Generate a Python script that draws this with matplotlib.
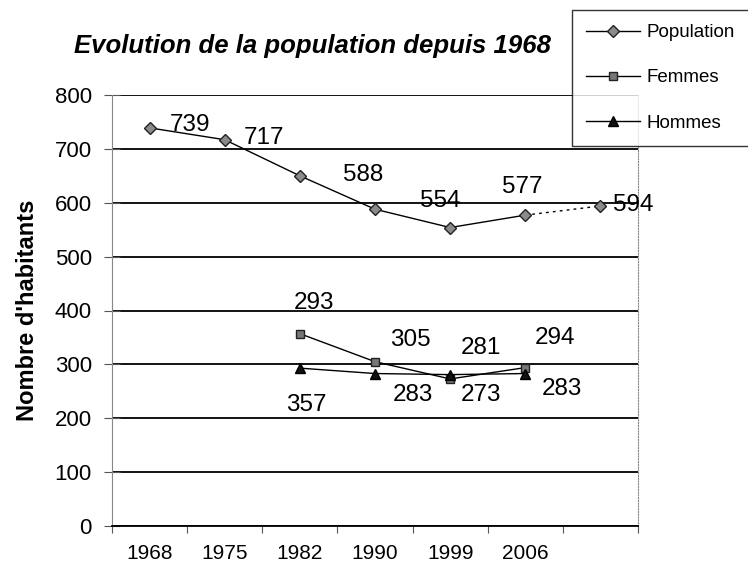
import matplotlib.pyplot as plt
import numpy as np

# categories (last point has no year label)
years = ['1968', '1975', '1982', '1990', '1999', '2006', '']
population = [739, 717, 650, 588, 554, 577, 594]
pop_labels = ['739', '717', '', '588', '554', '577', '594']
femmes_idx = [2, 3, 4, 5]
femmes = [357, 305, 273, 294]
hommes_idx = [2, 3, 4, 5]
hommes = [293, 283, 281, 283]

# label offsets in pixels (dx, dy)
pop_offsets = [(40, 3), (39, 2), (0, 0), (-12, 34), (-10, 27), (-3, 28), (33, 1)]
fem_offsets = [(6, -71), (35, 22), (31, -16), (30, 30)]
hom_offsets = [(14, 65), (38, -21), (31, 27), (37, -15)]

plt.rcParams['font.family'] = ['Liberation Sans', 'DejaVu Sans']

fig = plt.figure(figsize=(7.48, 5.71), dpi=100)
fig.patch.set_facecolor('white')
ax = fig.add_axes([112 / 748, 1 - 526 / 571, 526 / 748, 431 / 571])

x = np.arange(len(years))

# population: solid up to 2006, dotted to the last point
ax.plot(x[:6], population[:6], color='black', lw=1, zorder=3)
ax.plot(x[5:], population[5:], color='black', lw=1, ls=(0, (2, 3)), zorder=3)
ax.plot(x, population, ls='none', marker='D', ms=6, mfc='#8a8a8a',
        mec='#222222', mew=1, zorder=4)
ax.plot(femmes_idx, femmes, color='black', lw=1, marker='s', ms=6,
        mfc='#777777', mec='#222222', mew=1, zorder=4)
ax.plot(hommes_idx, hommes, color='black', lw=1, marker='^', ms=7,
        mfc='#111111', mec='black', zorder=4)

# legend handles
h1, = ax.plot([], [], color='black', lw=1, marker='D', ms=6, mfc='#8a8a8a', mec='#222222')
h2, = ax.plot([], [], color='black', lw=1, marker='s', ms=6, mfc='#777777', mec='#222222')
h3, = ax.plot([], [], color='black', lw=1, marker='^', ms=7, mfc='#111111', mec='black')

lab_size = 17.5
for xi, v, lab, off in zip(x, population, pop_labels, pop_offsets):
    if lab:
        ax.annotate(lab, (xi, v), xytext=off, textcoords='offset pixels',
                    ha='center', va='center', fontsize=lab_size, zorder=5)
for xi, v, off in zip(femmes_idx, femmes, fem_offsets):
    ax.annotate(str(v), (xi, v), xytext=off, textcoords='offset pixels',
                ha='center', va='center', fontsize=lab_size, zorder=5)
for xi, v, off in zip(hommes_idx, hommes, hom_offsets):
    ax.annotate(str(v), (xi, v), xytext=off, textcoords='offset pixels',
                ha='center', va='center', fontsize=lab_size, zorder=5)

ax.set_xlim(-0.5, len(years) - 0.5)
ax.set_ylim(0, 800)
ax.set_yticks(np.arange(0, 801, 100))
ax.set_xticks(x)
ax.set_xticklabels(years)
ax.set_xticks(np.arange(-0.5, len(years)), minor=True)
ax.tick_params(axis='x', which='major', length=0, pad=13, labelsize=15)
ax.tick_params(axis='x', which='minor', length=5, color='#555555', width=0.8)
ax.tick_params(axis='y', direction='inout', length=11, color='#555555',
               width=0.8, labelsize=16, pad=9)

ax.yaxis.grid(True, color='black', lw=1.3)
ax.set_axisbelow(True)
ax.spines['top'].set_visible(False)
ax.spines['right'].set_color('#888888')
ax.spines['right'].set_linestyle((0, (1, 1.5)))
ax.spines['right'].set_linewidth(0.8)
ax.spines['left'].set_color('#888888')
ax.spines['left'].set_linewidth(0.8)
ax.spines['bottom'].set_color('black')
ax.spines['bottom'].set_linewidth(1.3)

ax.set_ylabel("Nombre d'habitants", fontsize=17, fontweight='bold', labelpad=11)
fig.text(312 / 748, 1 - 46 / 571, 'Evolution de la population depuis 1968',
         ha='center', va='center', fontsize=18.5, fontweight='bold', style='italic')

leg = fig.legend([h1, h2, h3], ['Population', 'Femmes', 'Hommes'],
                 loc='upper left', bbox_to_anchor=(572 / 748, 1 - 10 / 571),
                 fontsize=13.5, frameon=True, fancybox=False, handlelength=2.9,
                 labelspacing=1.5, borderpad=0.75, handletextpad=0.3,
                 borderaxespad=0)
leg.get_frame().set_edgecolor('black')
leg.get_frame().set_linewidth(1)

fig.savefig('out.png', dpi=100)
